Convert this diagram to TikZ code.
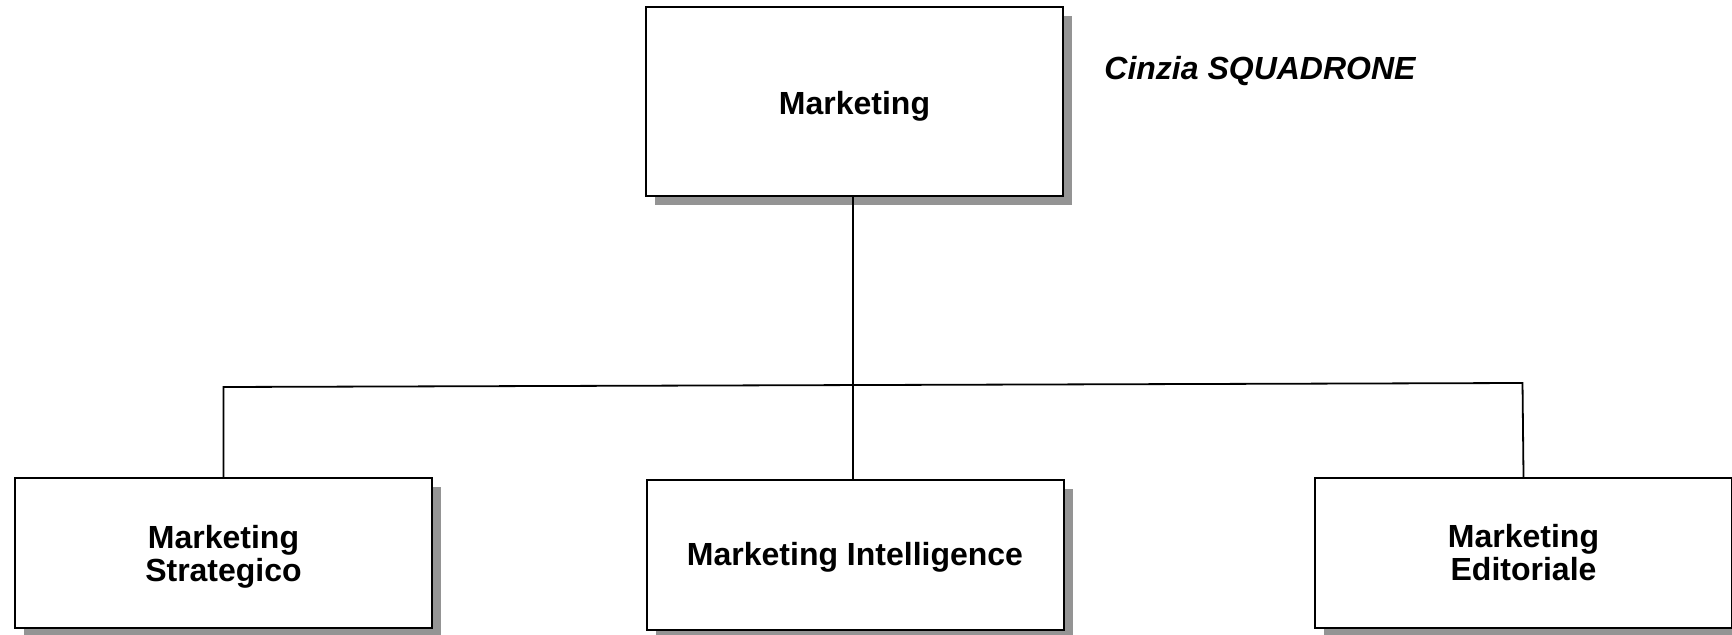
\documentclass[tikz,border=0pt]{standalone}
\usepackage{fontspec}
\setmainfont{Liberation Sans}
\usetikzlibrary{shadows}
\begin{document}
\begin{tikzpicture}[x=0.5pt,y=-0.5pt,
  box/.style={draw, line width=1pt, fill=white, inner sep=0pt, align=center,
    font=\bfseries\fontsize{16}{16.5}\selectfont,
    drop shadow={shadow xshift=4.5pt, shadow yshift=-4.5pt, fill=black!42, opacity=1}},
  bigbox/.style={box, minimum width=208.5pt, minimum height=94.5pt},
  smallbox/.style={box, minimum width=208.5pt, minimum height=75pt},
  conn/.style={line width=0.9pt},
  authorlabel/.style={font=\bfseries\itshape\fontsize{16}{17}\selectfont, inner sep=0pt, anchor=west}]
\useasboundingbox (0,0) rectangle (1732,635);
\node[bigbox] (top) at (854.5,101.5) {\raisebox{0pt}[12.7pt][0pt]{Marketing}};
\node[smallbox] (strat) at (223.5,553) {Marketing\\\raisebox{0pt}[\height][0pt]{Strategico}};
\node[smallbox] (intel) at (855,555) {\raisebox{0pt}[11.7pt][1.5pt]{Marketing Intelligence}};
\node[smallbox] (edit) at (1523.5,553) {Marketing\\Editoriale};
\node[authorlabel] (cinzia) at (1104,71) {Cinzia SQUADRONE};
\coordinate (hL) at (223.5,387);
\coordinate (hR) at (1522.5,383);
\draw[conn] (top.south -| 853,0) -- (intel.north -| 853,0);
\draw[conn] (strat.north) -- (hL) -- (hR) -- (edit.north);
\end{tikzpicture}
\end{document}
